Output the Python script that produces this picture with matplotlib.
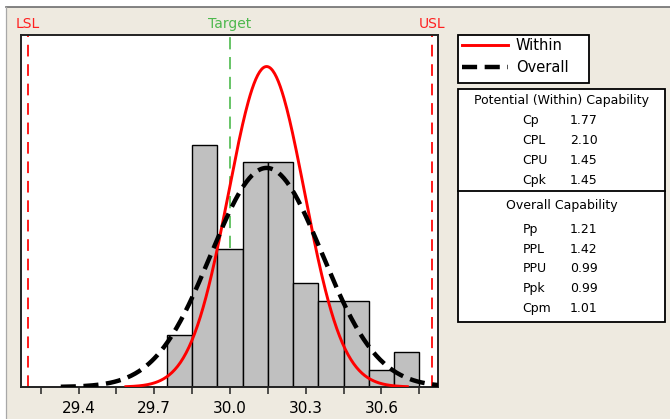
import matplotlib

matplotlib.use("Agg")

import matplotlib.pyplot as plt
import numpy as np
from matplotlib.lines import Line2D
from matplotlib.patches import Rectangle

# histogram (bin width 0.1)
bin_left = [29.75, 29.85, 29.95, 30.05, 30.15, 30.25, 30.35, 30.45, 30.55, 30.65]
counts = [3, 14, 8, 13, 13, 6, 5, 5, 1, 2]
bin_width = 0.1

lsl = 29.2
usl = 30.8
target = 30.0
process_mean = 30.145

within_labels = ["Cp", "CPL", "CPU", "Cpk"]
within_values = [1.77, 2.10, 1.45, 1.45]
overall_labels = ["Pp", "PPL", "PPU", "Ppk", "Cpm"]
overall_values = [1.21, 1.42, 0.99, 0.99, 1.01]

major_ticks = [29.4, 29.7, 30.0, 30.3, 30.6]
minor_ticks = [29.25, 29.55, 29.85, 30.15, 30.45, 30.75]

W, H = 670, 419
BG = "#EEEAE0"


def fx(px):
    return px / W


def fy(py):
    return 1 - py / H


def normal_curve(x, mu, sd, n):
    return n * bin_width * np.exp(-0.5 * ((x - mu) / sd) ** 2) / (sd * np.sqrt(2 * np.pi))


# sigmas from the capability indices in the table
within_sd = (usl - lsl) / (6 * within_values[0])
overall_sd = (usl - lsl) / (6 * overall_values[0])
n_obs = sum(counts)

fig = plt.figure(figsize=(W / 100, H / 100), dpi=100, facecolor="white")
fig.patches.append(Rectangle((fx(6), 0), 1, fy(7), transform=fig.transFigure,
                             facecolor=BG, edgecolor="none", zorder=-5))
fig.lines.append(Line2D([fx(6), 1], [fy(7.5), fy(7.5)], transform=fig.transFigure,
                        color="#6E6E6E", lw=1.2, zorder=-4))
fig.lines.append(Line2D([fx(6), fx(6)], [0, fy(7.5)], transform=fig.transFigure,
                        color="#A8A8A8", lw=0.9, zorder=-4))

ax = fig.add_axes([fx(21), fy(387), fx(438 - 21), (387 - 35) / H])
ax.set_facecolor("white")

ax.bar(bin_left, counts, width=bin_width, align="edge", color="#C0C0C0",
       edgecolor="black", linewidth=1.0, zorder=2)

xw = np.linspace(process_mean - 3.7 * within_sd, process_mean + 3.7 * within_sd, 300)
xo = np.linspace(process_mean - 3.7 * overall_sd, process_mean + 3.7 * overall_sd, 300)
within_line, = ax.plot(xw, normal_curve(xw, process_mean, within_sd, n_obs),
                       color="#FF0000", lw=2.1, zorder=4, label="Within")
overall_line, = ax.plot(xo, normal_curve(xo, process_mean, overall_sd, n_obs),
                        color="black", lw=3.2, dashes=(3.4, 1.7), zorder=5, label="Overall")

# spec limits and target sit behind the bars
for value, color, lw, dash in [(lsl, "#FF1A1A", 1.4, (6, 4)), (usl, "#FF1A1A", 1.4, (6, 4)),
                               (target, "#3DB43D", 1.1, (8, 5))]:
    ax.axvline(value, color=color, lw=lw, dashes=dash, zorder=1)

ax.set_xlim(29.172, 30.824)
ax.set_ylim(0, 20.36)
ax.set_yticks([])
ax.set_xticks(major_ticks)
ax.set_xticklabels([f"{t:.1f}" for t in major_ticks])
ax.set_xticks(minor_ticks, minor=True)
ax.tick_params(axis="x", which="both", direction="out", length=5, width=1.1,
               color="#222222", labelsize=11, pad=5)
for spine in ax.spines.values():
    spine.set_linewidth(1.4)
    spine.set_color("#222222")

for value, text, color in [(lsl, "LSL", "#FF2020"), (target, "Target", "#4DB84D"),
                           (usl, "USL", "#FF2020")]:
    ax.text(value, 1.0 + 11 / 352, text, transform=ax.get_xaxis_transform(),
            ha="center", va="center", fontsize=10, color=color)

# legend box
fig.patches.append(Rectangle((fx(458), fy(83)), fx(589 - 458), 48 / H,
                             transform=fig.transFigure, facecolor="white",
                             edgecolor="black", lw=1.3, zorder=1))
fig.legend(handles=[within_line, overall_line], loc="upper left",
           bbox_to_anchor=(fx(461), fy(37)), fontsize=10.5, frameon=False,
           borderpad=0.1, labelspacing=0.45, handlelength=3.1, handletextpad=0.55,
           borderaxespad=0)

# capability table
fig.patches.append(Rectangle((fx(458), fy(322)), fx(665 - 458), (322 - 89) / H,
                             transform=fig.transFigure, facecolor="white",
                             edgecolor="black", lw=1.3, zorder=1))
fig.lines.append(Line2D([fx(458), fx(665)], [fy(190.7), fy(190.7)],
                        transform=fig.transFigure, color="black", lw=1.3, zorder=2))

cx = (458 + 665) / 2
fig.text(fx(cx), fy(100.7), "Potential (Within) Capability", ha="center", va="center", fontsize=9)
for i, (lab, val) in enumerate(zip(within_labels, within_values)):
    y = 120.7 + i * 20
    fig.text(fx(522.7), fy(y), lab, ha="left", va="center", fontsize=9)
    fig.text(fx(570), fy(y), f"{val:.2f}", ha="left", va="center", fontsize=9)

fig.text(fx(cx), fy(205), "Overall Capability", ha="center", va="center", fontsize=9)
for i, (lab, val) in enumerate(zip(overall_labels, overall_values)):
    y = 229.3 + i * 19.75
    fig.text(fx(522.7), fy(y), lab, ha="left", va="center", fontsize=9)
    fig.text(fx(570), fy(y), f"{val:.2f}", ha="left", va="center", fontsize=9)

fig.savefig("out.png", dpi=100, facecolor=fig.get_facecolor())
